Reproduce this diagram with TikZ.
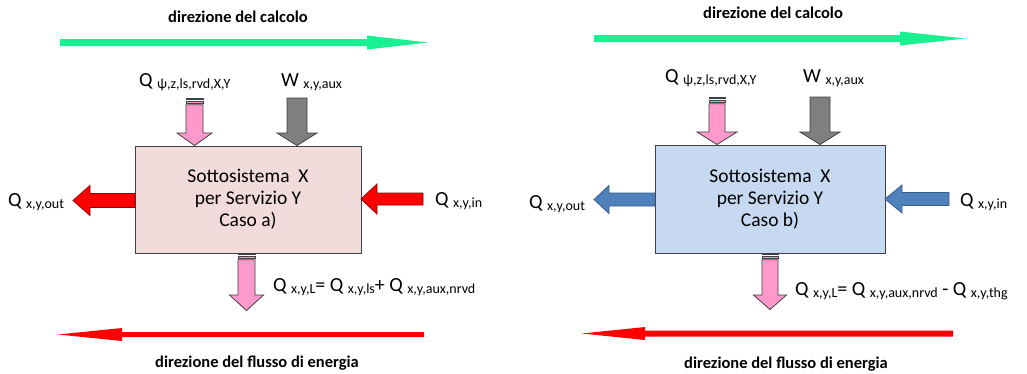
\documentclass[tikz,border=0pt]{standalone}
\usepackage{fontspec}
\setmainfont{Carlito}
\definecolor{calcgreen}{RGB}{25,240,145}
\definecolor{boxpink}{RGB}{242,220,219}
\definecolor{boxblue}{RGB}{198,217,241}
\definecolor{arrpink}{RGB}{255,153,204}
\definecolor{arrgray}{RGB}{127,127,127}
\definecolor{arrblue}{RGB}{79,129,189}
\definecolor{arrblueline}{RGB}{56,93,138}
\definecolor{darkredline}{RGB}{150,0,0}
\definecolor{boxline}{RGB}{64,64,64}
\newcommand{\blockH}[7][]{\path[#1] (#2,#5-#6) -- (#3,#5-#6) -- (#3,#5-#7) -- (#4,#5) -- (#3,#5+#7) -- (#3,#5+#6) -- (#2,#5+#6) -- cycle;}
\newcommand{\blockV}[7][]{\path[#1] (#2-#6,#3) -- (#2+#6,#3) -- (#2+#6,#4) -- (#2+#7,#4) -- (#2,#5) -- (#2-#7,#4) -- (#2-#6,#4) -- cycle;}
\newcommand{\blockVS}[7][]{\path[#1] (#2-#6,#3) rectangle (#2+#6,#3+1.8);
  \path[#1] (#2-#6,#3+3.4) rectangle (#2+#6,#3+5.2);
  \path[#1] (#2-#6,#3+6.8) -- (#2+#6,#3+6.8) -- (#2+#6,#4) -- (#2+#7,#4) -- (#2,#5) -- (#2-#7,#4) -- (#2-#6,#4) -- cycle;}
\newcommand{\Qsub}[2]{#1\hspace{4.5pt}\raisebox{-2.5pt}{\fontsize{14}{14}\selectfont #2}}
\tikzset{
  sysbox/.style={draw=boxline, line width=1pt, inner sep=0pt, align=center,
    font=\fontsize{19.5}{22}\selectfont},
  lbl/.style={anchor=base west, inner sep=0pt, font=\fontsize{20}{24}\selectfont},
  ttl/.style={anchor=base, inner sep=0pt, font=\fontsize{16.5}{20}\selectfont\bfseries},
  redblk/.style={fill=red, draw=darkredline, line width=0.8pt, line join=miter},
  blueblk/.style={fill=arrblue, draw=arrblueline, line width=0.8pt},
  pinkblk/.style={fill=arrpink, draw=black!75, line width=0.8pt},
  grayblk/.style={fill=arrgray, draw=black!75, line width=0.8pt},
  greenarr/.style={fill=calcgreen},
  redarr/.style={fill=red},
}
\begin{document}
\begin{tikzpicture}[x=1pt,y=-1pt]
\useasboundingbox[fill=white] (0,0) rectangle (1027,373);

% ---------------- Left panel: Caso a)
\node[ttl] (tA) at (238,22) {direzione del calcolo};
\blockH[greenarr]{60}{367}{428}{42.5}{3.5}{7}
\node[lbl] (qpsiA) at (139,86) {\Qsub{Q}{ψ,z,ls,rvd,X,Y}};
\node[lbl] (wA) at (281,86) {\Qsub{W}{x,y,aux}};
\blockVS[pinkblk]{194.5}{98}{133}{145.5}{8.5}{17.5}
\blockV[grayblk]{297}{98}{133}{145.5}{10}{20}
\node[sysbox, fill=boxpink, minimum width=226pt, minimum height=107pt] (boxA) at (248,199.5)
  {Sottosistema\ \ X\\per Servizio Y\\Caso a)};
\blockH[redblk]{135}{90}{73}{200.5}{7}{15}
\blockH[redblk]{423}{377}{361}{199}{6}{15}
\node[lbl] (qoutA) at (8,206) {\Qsub{Q}{x,y,out}};
\node[lbl] (qinA) at (435,205) {\Qsub{Q}{x,y,in}};
\blockVS[pinkblk]{246.5}{253}{295}{310.5}{8.5}{17}
\node[lbl] (eqA) at (273,291) {\Qsub{Q}{x,y,L}= \Qsub{Q}{x,y,ls}+ \Qsub{Q}{x,y,aux,nrvd}};
\blockH[redarr]{424}{122}{58}{334.5}{2.5}{6.5}
\node[ttl] (fA) at (257,367) {direzione del flusso di energia};

% ---------------- Right panel: Caso b)
\node[ttl] (tB) at (773,18) {direzione del calcolo};
\blockH[greenarr]{594}{900}{965}{38.5}{3.5}{7}
\node[lbl] (qpsiB) at (665,82) {\Qsub{Q}{ψ,z,ls,rvd,X,Y}};
\node[lbl] (wB) at (803,82) {\Qsub{W}{x,y,aux}};
\blockVS[pinkblk]{717}{97}{132}{144.5}{8}{20}
\blockV[grayblk]{820}{97}{132}{144.5}{10}{20}
\node[sysbox, fill=boxblue, minimum width=230pt, minimum height=108pt] (boxB) at (770,199)
  {Sottosistema\ \ X\\per Servizio Y\\Caso b)};
\blockH[blueblk]{655}{609}{594}{199.5}{6.5}{14}
\blockH[blueblk]{949}{902}{885}{199}{6.5}{14}
\node[lbl] (qoutB) at (529,208) {\Qsub{Q}{x,y,out}};
\node[lbl] (qinB) at (960,206) {\Qsub{Q}{x,y,in}};
\blockVS[pinkblk]{770}{253}{295}{309.5}{8}{16.5}
\node[lbl] (eqB) at (795,295) {\Qsub{Q}{x,y,L}= \Qsub{Q}{x,y,aux,nrvd} - \Qsub{Q}{x,y,thg}};
\blockH[redarr]{953}{645}{582}{333.5}{3}{6.5}
\node[ttl] (fB) at (786,368) {direzione del flusso di energia};
\end{tikzpicture}
\end{document}
